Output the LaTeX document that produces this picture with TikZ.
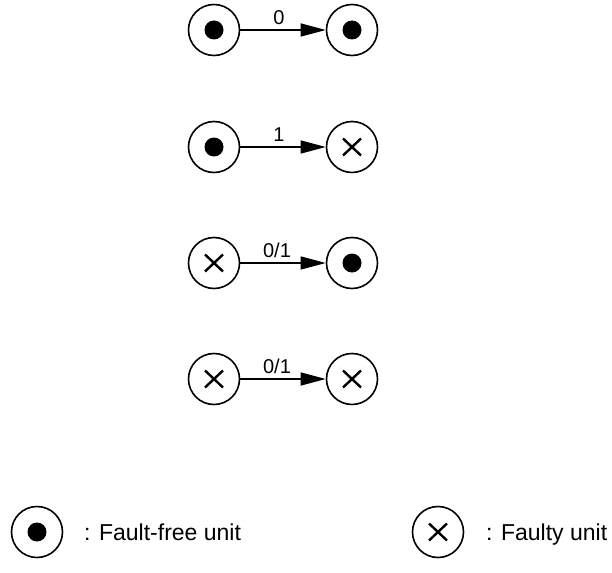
\documentclass[tikz,border=0pt]{standalone}
\usepackage{fontspec}
\setmainfont{Liberation Sans}
\usetikzlibrary{arrows.meta}
\begin{document}
\begin{tikzpicture}[x=1pt,y=-1pt,
  unit/.style={circle,draw,line width=1.6pt,minimum size=51pt,inner sep=0pt},
  good/.style={unit,path picture={\fill (path picture bounding box.center) circle (9.5pt);}},
  bad/.style={unit,path picture={
      \draw[line width=2.4pt]
        ([shift={(-9pt,-8.5pt)}]path picture bounding box.center) -- ([shift={(9pt,8.5pt)}]path picture bounding box.center)
        ([shift={(-9pt,8.5pt)}]path picture bounding box.center) -- ([shift={(9pt,-8.5pt)}]path picture bounding box.center);}},
  conn/.style={line width=1.5pt,-{Triangle[length=25pt,width=13pt]}},
  lab/.style={font=\fontsize{20}{24}\selectfont,inner sep=0pt,anchor=south},
  legtext/.style={font=\fontsize{23}{27}\selectfont,inner sep=0pt,anchor=base west}
]
\useasboundingbox (0,0) rectangle (612,572);
% row 1
\node[good] (a1) at (214,30) {};
\node[good] (b1) at (352,30) {};
\draw[conn] (a1) -- (b1) node[lab,midway,yshift=5pt,xshift=-4pt] {0};
% row 2
\node[good] (a2) at (214,147) {};
\node[bad]  (b2) at (352,147) {};
\draw[conn] (a2) -- (b2) node[lab,midway,yshift=5pt,xshift=-4pt] {1};
% row 3
\node[bad]  (a3) at (214,263) {};
\node[good] (b3) at (352,263) {};
\draw[conn] (a3) -- (b3) node[lab,midway,yshift=5pt,xshift=-6pt] {0/1};
% row 4
\node[bad]  (a4) at (214,379) {};
\node[bad]  (b4) at (352,379) {};
\draw[conn] (a4) -- (b4) node[lab,midway,yshift=5pt,xshift=-6pt] {0/1};
% legend
\node[good] (lg) at (37,532) {};
\node[legtext] (lgt) at (84,540) {: Fault-free unit};
\node[bad] (lb) at (438,532) {};
\node[legtext] (lbt) at (486,540) {: Faulty unit};
\end{tikzpicture}
\end{document}
